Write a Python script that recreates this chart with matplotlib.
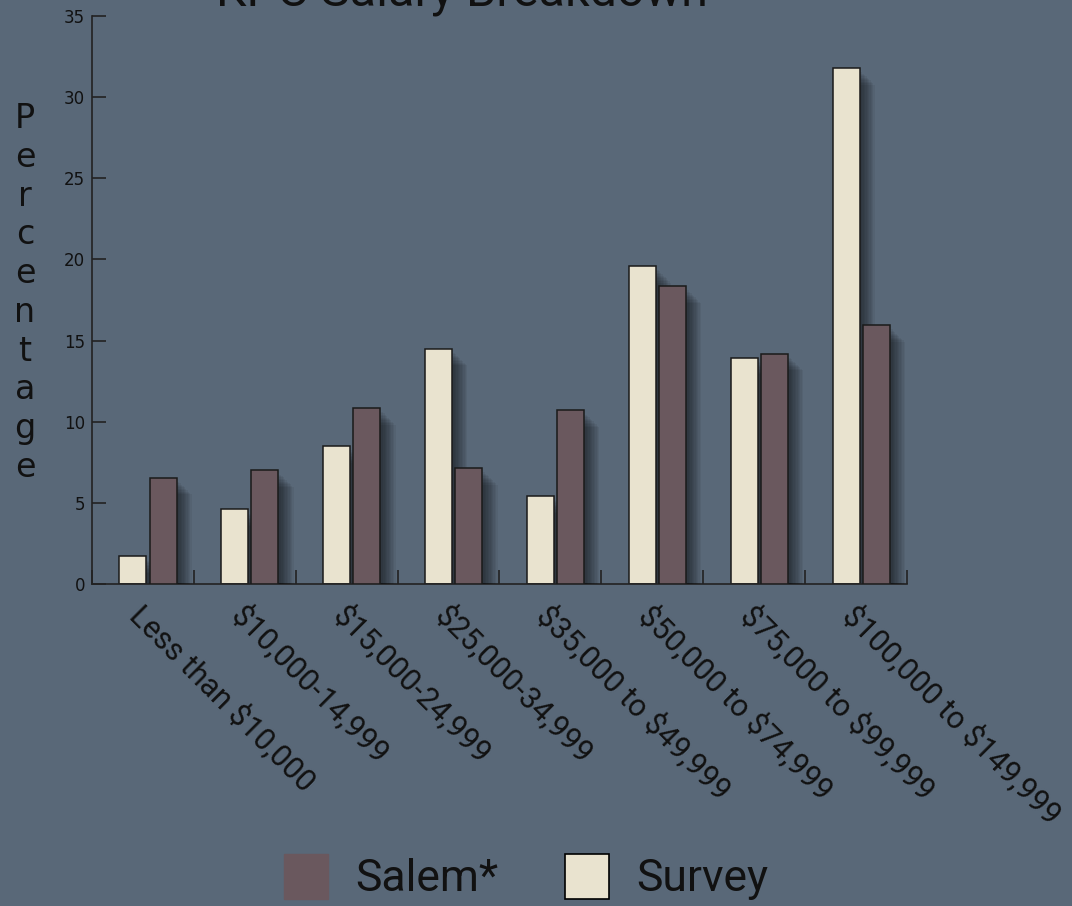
import matplotlib
matplotlib.use("Agg")
import matplotlib.pyplot as plt
import matplotlib.patheffects as pe
import matplotlib.transforms as mtransforms
from matplotlib.patches import Patch
import numpy as np

# salary brackets and share of households in each (percent)
categories = ["Less than $10,000", "$10,000-14,999", "$15,000-24,999",
              "$25,000-34,999", "$35,000 to $49,999", "$50,000 to $74,999",
              "$75,000 to $99,999", "$100,000 to $149,999"]
survey = [1.7, 4.6, 8.5, 14.5, 5.4, 19.6, 13.95, 31.8]
salem = [6.55, 7.0, 10.85, 7.15, 10.7, 18.35, 14.2, 15.95]

bg = "#596878"
cream = "#e9e3cf"
mauve = "#6a585e"
ink = "#111111"

fig = plt.figure(figsize=(10.72, 9.06), dpi=100, facecolor=bg)
ax = fig.add_axes([0.0858, 0.3554, 0.7603, 0.6269], facecolor=bg)

# soft drop shadow made of several stacked offsets
shadow = [pe.SimplePatchShadow(offset=(2 + k, -3 - k), shadow_rgbFace="black", alpha=0.055)
          for k in range(10)] + [pe.Normal()]

x = np.arange(len(categories)) + 0.5
w = 0.265
shift = 0.05
ax.bar(x + shift - 0.148, survey, width=w, color=cream, edgecolor="#1a1a1a",
       linewidth=1.1, path_effects=shadow, zorder=2)
ax.bar(x + shift + 0.148, salem, width=w, color=mauve, edgecolor="#1a1a1a",
       linewidth=1.1, path_effects=shadow, zorder=3)

ax.set_xlim(0, len(categories))
ax.set_ylim(0, 35)
ax.set_yticks(range(0, 36, 5))
ax.set_xticks(range(len(categories) + 1))
ax.set_xticklabels([])
ax.tick_params(axis="both", direction="in", length=10, width=1.2, color="#222222",
               labelsize=12, labelcolor=ink, pad=5)
for s in ["top", "right"]:
    ax.spines[s].set_visible(False)
for s in ["left", "bottom"]:
    ax.spines[s].set_color("#222222")
    ax.spines[s].set_linewidth(1.2)

# slanted bracket labels under the axis
lab_tr = mtransforms.offset_copy(ax.transData, fig=fig, x=2, y=-16, units="dots")
for xi, name in zip(x, categories):
    ax.text(xi, 0, name, transform=lab_tr, rotation=-45, rotation_mode="anchor",
            ha="left", va="top", fontsize=22, family="Roboto", color=ink,
            parse_math=False)

# stacked vertical axis label
fig.text(25 / 1072, 1 - 293 / 906, "\n".join("Percentage"), ha="center", va="center",
         fontsize=24, color=ink, linespacing=1.22)

fig.text(462 / 1072, 1 - 5 / 906, "KPC Salary Breakdown", ha="center", va="baseline",
         fontsize=35, family="Roboto", color=ink)

handles = [Patch(facecolor=mauve, edgecolor=mauve, label="Salem*"),
           Patch(facecolor=cream, edgecolor="black", linewidth=1.2, label="Survey")]
fig.legend(handles=handles, loc="center", bbox_to_anchor=(526 / 1072, 1 - 877 / 906),
           ncol=2, frameon=False, prop={"family": "Roboto", "size": 32},
           handlelength=1.0, handleheight=1.18, handletextpad=0.6, columnspacing=1.5,
           labelcolor=ink)

fig.savefig("out.png", dpi=100, facecolor=bg)
